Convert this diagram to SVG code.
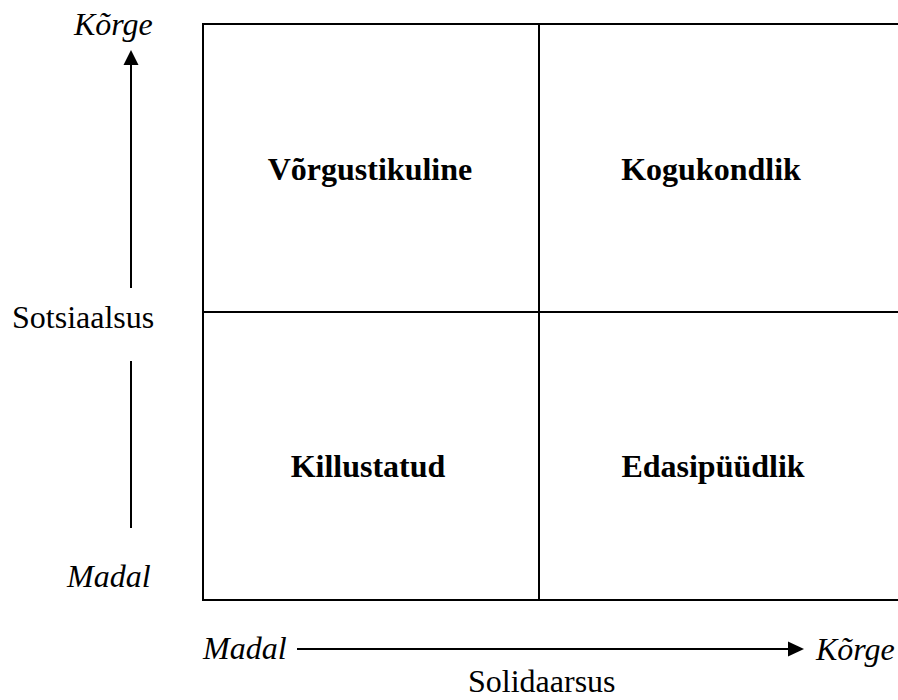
<svg xmlns="http://www.w3.org/2000/svg" width="898" height="700" viewBox="0 0 898 700">
<style>
.t{font-family:"Liberation Serif","Times New Roman",serif;font-size:32px;fill:#000}
.i{font-style:italic}
.b{font-weight:bold;text-anchor:middle}
.ln{stroke:#000;stroke-width:2;fill:none}
</style>
<rect width="898" height="700" fill="#fff"/>
<g id="grid">
<path class="ln" d="M898,24 H203 V600 H898"/>
<path class="ln" d="M539,24 V600"/>
<path class="ln" d="M203,312 H898"/>
</g>
<g id="connectors">
<path class="ln" d="M131,288 V64"/>
<path d="M131,50 L123.5,65 L138.5,65 Z" fill="#000"/>
<path class="ln" d="M131,361 V528"/>
<path class="ln" d="M297,649 H789"/>
<path d="M804,649 L788,641.5 L788,656.5 Z" fill="#000"/>
</g>
<g id="q1"><text class="t b" x="370" y="180">Võrgustikuline</text></g>
<g id="q2"><text class="t b" x="711" y="180">Kogukondlik</text></g>
<g id="q3"><text class="t b" x="368" y="477">Killustatud</text></g>
<g id="q4"><text class="t b" x="713" y="477">Edasipüüdlik</text></g>
<g id="axis-labels">
<text class="t i" x="74" y="35">Kõrge</text>
<text class="t" x="12" y="328">Sotsiaalsus</text>
<text class="t i" x="67" y="587">Madal</text>
<text class="t i" x="203" y="659">Madal</text>
<text class="t i" x="816" y="660">Kõrge</text>
<text class="t" x="468" y="692">Solidaarsus</text>
</g>
</svg>
